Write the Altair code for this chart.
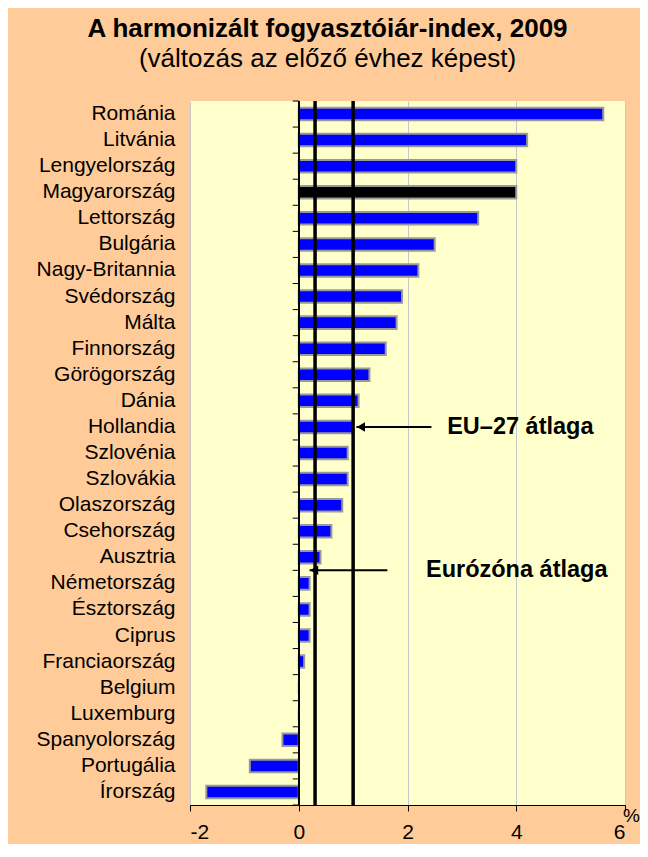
import altair as alt
import pandas as pd

# ---- data ----
countries = ["Románia", "Litvánia", "Lengyelország", "Magyarország", "Lettország",
             "Bulgária", "Nagy-Britannia", "Svédország", "Málta", "Finnország",
             "Görögország", "Dánia", "Hollandia", "Szlovénia", "Szlovákia",
             "Olaszország", "Csehország", "Ausztria", "Németország", "Észtország",
             "Ciprus", "Franciaország", "Belgium", "Luxemburg", "Spanyolország",
             "Portugália", "Írország"]
values = [5.6, 4.2, 4.0, 4.0, 3.3, 2.5, 2.2, 1.9, 1.8, 1.6, 1.3, 1.1, 1.0, 0.9, 0.9,
          0.8, 0.6, 0.4, 0.2, 0.2, 0.2, 0.1, 0.0, 0.0, -0.3, -0.9, -1.7]
highlight = "Magyarország"

avg_labels = ["EU–27 átlaga", "Eurózóna átlaga"]
avg_values = [1.0, 0.3]
avg_rows = ["Hollandia", "Ausztria"]
arrow_tips = [1.06, 0.2]
arrow_tails = [2.44, 1.63]
label_x = [2.73, 2.34]

x_ticks = [-2, 0, 2, 4, 6]

title_text = "A harmonizált fogyasztóiár-index, 2009"
subtitle_text = "(változás az előző évhez képest)"

# ---- layout / style ----
W, H = 435, 704
N = len(countries)
BAND = H / N
FONT = "Liberation Sans"
BLUE = "#0000FF"

df = pd.DataFrame({"country": countries, "value": values})
df_avg = pd.DataFrame({"value": avg_values})

xscale = alt.Scale(domain=[-2, 6], nice=False, zero=False)
yscale = alt.Scale(domain=countries, paddingInner=0.52, paddingOuter=0.26)

x_enc = alt.X("value:Q", scale=xscale,
              axis=alt.Axis(values=x_ticks, grid=True, gridColor="#C8C8C8", gridWidth=1,
                            domainColor="black", domainWidth=1, tickColor="black",
                            tickSize=6, labelFontSize=21, labelFont=FONT, labelColor="black",
                            labelPadding=10, labelExpr="'' + datum.value",
                            title="%", titleFont=FONT, titleFontSize=19,
                            titleFontWeight="normal", titleColor="black", titleAngle=0,
                            titleX=W + 6, titleY=10, titleAlign="center",
                            titleBaseline="middle"))
y_enc = alt.Y("country:N", scale=yscale, sort=None,
              axis=alt.Axis(title=None, domain=False, ticks=False, labelFontSize=21,
                            labelFont=FONT, labelColor="black", labelPadding=15,
                            labelLimit=300))

bars = alt.Chart(df).mark_bar(stroke="#999999", strokeWidth=2).encode(
    x=x_enc,
    y=y_enc,
    color=alt.condition(alt.datum.country == highlight, alt.value("black"), alt.value(BLUE)),
)

zero_line = alt.Chart(df).mark_rule(color="black", strokeWidth=1).encode(x=alt.datum(0))

cat_ticks = alt.Chart(df).mark_rule(color="black", strokeWidth=1, xOffset=-6,
                                    yOffset=-BAND / 2).encode(
    x=alt.datum(0), x2=alt.datum(0), y=alt.Y("country:N", scale=yscale))
last_tick = alt.Chart(df.tail(1)).mark_rule(color="black", strokeWidth=1, xOffset=-6,
                                            yOffset=BAND / 2).encode(
    x=alt.datum(0), x2=alt.datum(0), y=alt.Y("country:N", scale=yscale))

avg_rules = alt.Chart(df_avg).mark_rule(color="black", strokeWidth=3.5).encode(x="value:Q")

layers = [bars, avg_rules, zero_line, cat_ticks, last_tick]

for i in range(len(avg_labels)):
    dy = 0 if i == 0 else BAND / 2
    d = pd.DataFrame({"row": [avg_rows[i]], "tip": [arrow_tips[i]], "tail": [arrow_tails[i]],
                      "lx": [label_x[i]], "label": [avg_labels[i]]})
    line = alt.Chart(d).mark_rule(color="black", strokeWidth=2, yOffset=dy).encode(
        x="tip:Q", x2="tail:Q", y=alt.Y("row:N", scale=yscale))
    head = alt.Chart(d).mark_point(shape="triangle-left", filled=True, color="black",
                                   opacity=1, size=90, xOffset=4.5, yOffset=dy).encode(
        x="tip:Q", y=alt.Y("row:N", scale=yscale))
    txt = alt.Chart(d).mark_text(align="left", baseline="middle", font=FONT, fontSize=23.5,
                                 fontWeight="bold", color="black", yOffset=dy).encode(
        x="lx:Q", y=alt.Y("row:N", scale=yscale), text="label:N")
    layers += [line, head, txt]

chart = alt.layer(*layers).properties(
    width=W, height=H,
    title=alt.TitleParams(text=title_text, subtitle=subtitle_text, font=FONT, fontSize=26,
                          fontWeight="bold", color="black", subtitleFont=FONT,
                          subtitleFontSize=26, subtitleColor="black", subtitlePadding=4,
                          anchor="middle", frame="group", dx=-80, offset=27),
    autosize=alt.AutoSizeParams(type="none"),
    padding={"left": 182, "top": 93, "right": 15, "bottom": 39},
    background="#FFCC99",
).configure_view(fill="#FFFFCC", strokeWidth=0)

chart.save("out.html", embed_options={"renderer": "svg", "actions": False})
